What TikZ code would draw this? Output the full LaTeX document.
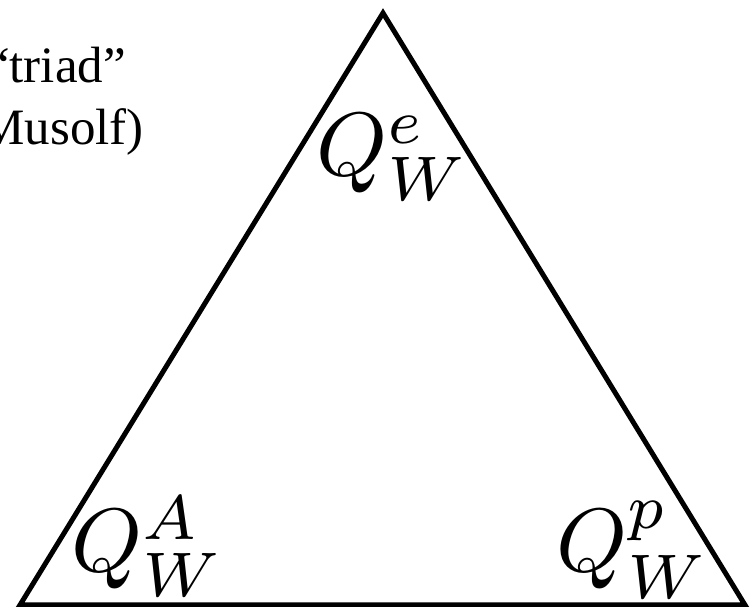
\documentclass[tikz,border=0pt]{standalone}
\usepackage{fontspec}
\setmainfont{Liberation Serif}
\begin{document}
\begin{tikzpicture}[x=1pt,y=1pt,
  edge/.style={line width=5pt,line join=miter},
  qlabel/.style={inner sep=0pt,anchor=base west},
  note/.style={inner sep=0pt,anchor=base east,font=\fontsize{51}{51}\selectfont}]
\useasboundingbox (0,0) rectangle (750,607);
\coordinate (A) at (20,2);
\coordinate (B) at (745,2);
\coordinate (C) at (383,594);
\draw[edge] (A) -- (B) -- (C) -- cycle;
\node[qlabel] (qe) at (316,431) {\scalebox{9}{$Q_W^e$}};
\node[qlabel] (qa) at (71,35) {\scalebox{9}{$Q_W^A$}};
\node[qlabel] (qp) at (556,35) {\scalebox{9}{$Q_W^p$}};
\node[note] (t1) at (126,524) {“triad”};
\node[note] (t2) at (144,462) {(Musolf)};
\end{tikzpicture}
\end{document}
